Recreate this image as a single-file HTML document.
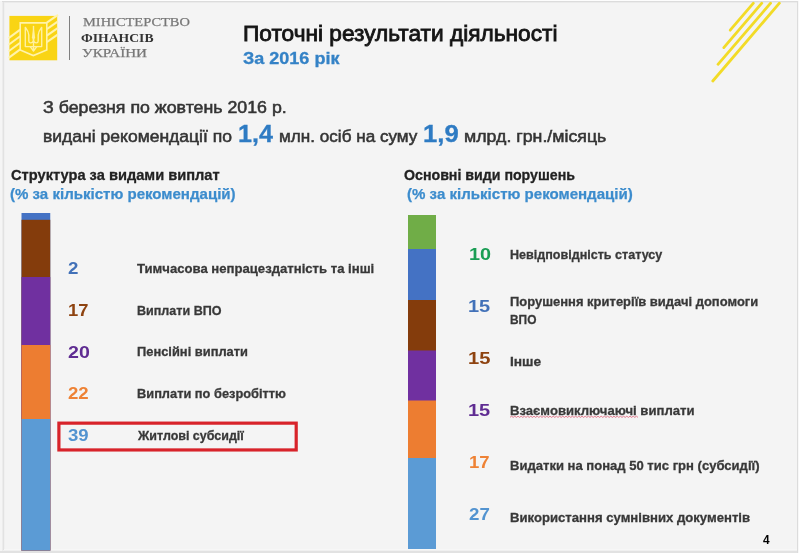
<!DOCTYPE html>
<html lang="uk">
<head>
<meta charset="utf-8">
<title>Поточні результати діяльності</title>
<style>
html,body{margin:0;padding:0;}
body{width:799px;height:553px;overflow:hidden;background:#f5f5f5;font-family:"Liberation Sans",sans-serif;}
#slide{position:absolute;left:0;top:0;width:799px;height:553px;overflow:hidden;background:#f5f5f5;}
#paper{position:absolute;left:4px;top:2px;width:793px;height:549px;background:#f4f4f4;}
.edge{position:absolute;}
.t{position:absolute;white-space:nowrap;line-height:1;transform-origin:0 0;display:block;}
.seg{position:absolute;}
.bar{position:absolute;}
#divider{position:absolute;left:69px;top:16px;width:1px;height:44px;background:#808080;}
svg{position:absolute;left:0;top:0;overflow:visible;}
</style>
</head>
<body>
<div id="slide">
<div id="paper"></div>
<div class="edge" style="left:0;top:0;width:799px;height:1px;background:#fdfdfd;"></div>
<div class="edge" style="left:2px;top:1px;width:797px;height:1px;background:#dcdcdc;"></div>
<div class="edge" style="left:3px;top:2px;width:795px;height:1px;background:#ebebeb;"></div>
<div class="edge" style="left:2px;top:2px;width:1px;height:549px;background:#ececec;"></div>
<div class="edge" style="left:3px;top:2px;width:1px;height:549px;background:#e2e2e2;"></div>
<div class="edge" style="left:4px;top:3px;width:1px;height:548px;background:#f0f0f0;"></div>
<div class="edge" style="left:797px;top:2px;width:1px;height:551px;background:#dcdcdc;"></div>
<div class="edge" style="left:798px;top:1px;width:1px;height:552px;background:#f8f8f8;"></div>
<div class="edge" style="left:4px;top:549px;width:793px;height:1px;background:#f7f7f7;"></div>
<div class="edge" style="left:3px;top:550px;width:794px;height:1px;background:#f0f0f0;"></div>
<div class="edge" style="left:0;top:551px;width:797px;height:2px;background:#e2e2e2;"></div>

<!-- decorative yellow strokes top-right -->
<svg width="799" height="553" viewBox="0 0 799 553">
 <g stroke="#f2db27" stroke-width="2.8" stroke-linecap="round" fill="none">
  <line x1="753.4" y1="3.2" x2="730.2" y2="30.2"/>
  <line x1="761.8" y1="3.2" x2="723.8" y2="47.6"/>
  <line x1="770.6" y1="3.2" x2="718.0" y2="64.3"/>
  <line x1="779.4" y1="3.2" x2="712.8" y2="81.0"/>
 </g>
</svg>

<!-- logo -->
<svg width="799" height="553" viewBox="0 0 799 553">
 <rect x="9.4" y="15.9" width="47.8" height="44.4" fill="#f9d414"/>
 <g stroke="#fff3ab" stroke-width="2" fill="none" stroke-linecap="butt">
  <line x1="20.2" y1="29.6" x2="8.6" y2="38.1"/>
  <line x1="20.2" y1="36.2" x2="8.6" y2="44.7"/>
  <line x1="20.2" y1="42.8" x2="8.6" y2="51.3"/>
  <line x1="20.2" y1="49.4" x2="8.6" y2="57.9"/>
  <line x1="46.8" y1="22.6" x2="58.0" y2="14.9"/>
  <line x1="46.8" y1="29.1" x2="58.0" y2="21.4"/>
  <line x1="46.8" y1="35.6" x2="58.0" y2="27.9"/>
  <line x1="46.8" y1="42.1" x2="58.0" y2="34.4"/>
 </g>
 <path d="M20.2 22.9 H46.8 V50 L33.3 55.6 L20.2 50 Z" stroke="#fff3ab" stroke-width="1.6" fill="#f9d414"/>
 <!-- trident -->
 <g stroke="#fff1a0" stroke-width="1.4" fill="none" stroke-linejoin="round" stroke-linecap="round">
  <path d="M25.3 27.4 V46.6 H41.7 V27.4"/>
  <path d="M25.6 27.6 C27.4 30 28.7 32.2 28.8 35 V41 C29 43.6 32.6 43.6 33.4 40.6"/>
  <path d="M41.4 27.6 C39.6 30 38.3 32.2 38.2 35 V41 C38 43.6 34.4 43.6 33.6 40.6"/>
  <path d="M33.5 26.4 V50.6"/>
  <path d="M30.4 46.8 L33.5 51 L36.6 46.8"/>
 </g>
 <path d="M33.5 26 L35.1 37.5 L33.5 41.5 L31.9 37.5 Z" fill="#fff1a0"/>
</svg>
<div id="divider"></div>

<!-- left stacked bar -->
<svg width="799" height="553" viewBox="0 0 799 553">
 <rect x="21.5" y="213" width="28.75" height="337.5" fill="#4472c4"/>
 <rect x="21.5" y="219.8" width="28.75" height="330.7" fill="#843c0c"/>
 <rect x="21.5" y="277" width="28.75" height="273.5" fill="#7030a0"/>
 <rect x="21.5" y="345" width="28.75" height="205.5" fill="#ed7d31"/>
 <rect x="21.5" y="419" width="28.75" height="131.5" fill="#5b9bd5"/>
</svg>

<!-- right stacked bar -->
<svg width="799" height="553" viewBox="0 0 799 553">
 <rect x="408" y="215" width="28" height="334" fill="#70ad47"/>
 <rect x="408" y="249" width="28" height="300" fill="#4472c4"/>
 <rect x="408" y="300" width="28" height="249" fill="#843c0c"/>
 <rect x="408" y="350.5" width="28" height="198.5" fill="#7030a0"/>
 <rect x="408" y="400.5" width="28" height="148.5" fill="#ed7d31"/>
 <rect x="408" y="458" width="28" height="91" fill="#5b9bd5"/>
</svg>

<!-- highlight frame -->
<svg width="799" height="553" viewBox="0 0 799 553"><rect x="58.9" y="423.15" width="237.3" height="26.8" fill="none" stroke="#d8232a" stroke-width="3.2"/></svg>

<!-- spell-check squiggle -->
<svg width="799" height="553" viewBox="0 0 799 553">
 <path d="M510 417.3 L511.6 416.2 L513.2 417.4 L514.8 416.2 L516.4 417.4 L518.0 416.2 L519.6 417.4 L521.2 416.2 L522.8 417.4 L524.4 416.2 L526.0 417.4 L527.6 416.2 L529.2 417.4 L530.8 416.2 L532.4 417.4 L534.0 416.2 L535.6 417.4 L537.2 416.2 L538.8 417.4 L540.4 416.2 L542.0 417.4 L543.6 416.2 L545.2 417.4 L546.8 416.2 L548.4 417.4 L550.0 416.2 L551.6 417.4 L553.2 416.2 L554.8 417.4 L556.4 416.2 L558.0 417.4 L559.6 416.2 L561.2 417.4 L562.8 416.2 L564.4 417.4 L566.0 416.2 L567.6 417.4 L569.2 416.2 L570.8 417.4 L572.4 416.2 L574.0 417.4 L575.6 416.2 L577.2 417.4 L578.8 416.2 L580.4 417.4 L582.0 416.2 L583.6 417.4 L585.2 416.2 L586.8 417.4 L588.4 416.2 L590.0 417.4 L591.6 416.2 L593.2 417.4 L594.8 416.2 L596.4 417.4 L598.0 416.2 L599.6 417.4 L601.2 416.2 L602.8 417.4 L604.4 416.2 L606.0 417.4 L607.6 416.2 L609.2 417.4 L610.8 416.2 L612.4 417.4 L614.0 416.2 L615.6 417.4 L617.2 416.2 L618.8 417.4 L620.4 416.2 L622.0 417.4 L623.6 416.2 L625.2 417.4 L626.8 416.2 L628.4 417.4 L630.0 416.2 L631.6 417.4 L633.2 416.2 L634.8 417.4 L636.4 416.2 L638.0 417.4" stroke="#e0566f" stroke-width="0.9" stroke-opacity="0.85" fill="none"/>
</svg>

<span class="t" style="left:82.80px;top:15.18px;font-family:'Liberation Serif', serif;font-size:13.4px;font-weight:400;color:#777;transform:scaleX(1.0786);-webkit-text-stroke:0.25px #777;">МІНІСТЕРСТВО</span>
<span class="t" style="left:81.30px;top:30.78px;font-family:'Liberation Serif', serif;font-size:13.4px;font-weight:700;color:#333;transform:scaleX(1.0207);">ФІНАНСІВ</span>
<span class="t" style="left:82.40px;top:46.18px;font-family:'Liberation Serif', serif;font-size:13.4px;font-weight:400;color:#777;transform:scaleX(1.1280);-webkit-text-stroke:0.25px #777;">УКРАЇНИ</span>
<span class="t" style="left:243.00px;top:23.18px;font-family:'Liberation Sans', sans-serif;font-size:22.6px;font-weight:400;color:#151515;transform:scaleX(1.0039);-webkit-text-stroke:0.85px #151515;">Поточні результати діяльності</span>
<span class="t" style="left:242.90px;top:49.96px;font-family:'Liberation Sans', sans-serif;font-size:16.5px;font-weight:700;color:#3482c6;transform:scaleX(1.0916);-webkit-text-stroke:0.3px #3482c6;">За 2016 рік</span>
<span class="t" style="left:43.30px;top:98.81px;font-family:'Liberation Sans', sans-serif;font-size:17px;font-weight:400;color:#343434;transform:scaleX(1.0450);-webkit-text-stroke:0.55px #343434;">З березня по жовтень 2016 р.</span>
<span class="t" style="left:42.90px;top:127.71px;font-family:'Liberation Sans', sans-serif;font-size:17px;font-weight:400;color:#343434;transform:scaleX(1.0310);-webkit-text-stroke:0.55px #343434;">видані рекомендації по</span>
<span class="t" style="left:238.35px;top:122.58px;font-family:'Liberation Sans', sans-serif;font-size:23.3px;font-weight:700;color:#2e7bc3;transform:scaleX(1.0775);-webkit-text-stroke:0.3px #2e7bc3;">1,4</span>
<span class="t" style="left:279.10px;top:127.71px;font-family:'Liberation Sans', sans-serif;font-size:17px;font-weight:400;color:#343434;transform:scaleX(1.0073);-webkit-text-stroke:0.55px #343434;">млн. осіб на суму</span>
<span class="t" style="left:422.95px;top:122.58px;font-family:'Liberation Sans', sans-serif;font-size:23.3px;font-weight:700;color:#2e7bc3;transform:scaleX(1.1022);-webkit-text-stroke:0.3px #2e7bc3;">1,9</span>
<span class="t" style="left:464.00px;top:127.71px;font-family:'Liberation Sans', sans-serif;font-size:17px;font-weight:400;color:#343434;transform:scaleX(1.0440);-webkit-text-stroke:0.55px #343434;">млрд. грн./місяць</span>
<span class="t" style="left:11.40px;top:167.20px;font-family:'Liberation Sans', sans-serif;font-size:15.0px;font-weight:700;color:#222;transform:scaleX(0.9759);-webkit-text-stroke:0.3px #222;">Структура за видами виплат</span>
<span class="t" style="left:10.25px;top:185.65px;font-family:'Liberation Sans', sans-serif;font-size:15.0px;font-weight:700;color:#3c8ccd;transform:scaleX(1.0036);-webkit-text-stroke:0.25px #3c8ccd;">(% за кількістю рекомендацій)</span>
<span class="t" style="left:404.10px;top:167.25px;font-family:'Liberation Sans', sans-serif;font-size:15.0px;font-weight:700;color:#222;transform:scaleX(0.9452);-webkit-text-stroke:0.3px #222;">Основні види порушень</span>
<span class="t" style="left:406.85px;top:185.75px;font-family:'Liberation Sans', sans-serif;font-size:15.0px;font-weight:700;color:#3c8ccd;transform:scaleX(1.0045);-webkit-text-stroke:0.25px #3c8ccd;">(% за кількістю рекомендацій)</span>
<span class="t" style="left:68.10px;top:260.47px;font-family:'Liberation Sans', sans-serif;font-size:17.4px;font-weight:700;color:#4271b8;transform:scaleX(1.0753);">2</span>
<span class="t" style="left:67.60px;top:301.87px;font-family:'Liberation Sans', sans-serif;font-size:17.4px;font-weight:700;color:#8e4310;transform:scaleX(1.0546);">17</span>
<span class="t" style="left:67.85px;top:344.27px;font-family:'Liberation Sans', sans-serif;font-size:17.4px;font-weight:700;color:#5f2c92;transform:scaleX(1.1270);">20</span>
<span class="t" style="left:68.10px;top:384.87px;font-family:'Liberation Sans', sans-serif;font-size:17.4px;font-weight:700;color:#ee8235;transform:scaleX(1.0701);">22</span>
<span class="t" style="left:68.10px;top:426.87px;font-family:'Liberation Sans', sans-serif;font-size:17.4px;font-weight:700;color:#5293d0;transform:scaleX(1.0675);">39</span>
<span class="t" style="left:137.30px;top:261.81px;font-family:'Liberation Sans', sans-serif;font-size:13.4px;font-weight:700;color:#383838;transform:scaleX(0.9797);-webkit-text-stroke:0.3px #383838;">Тимчасова непрацездатність та інші</span>
<span class="t" style="left:137.40px;top:303.86px;font-family:'Liberation Sans', sans-serif;font-size:13.4px;font-weight:700;color:#383838;transform:scaleX(0.9377);-webkit-text-stroke:0.3px #383838;">Виплати ВПО</span>
<span class="t" style="left:137.00px;top:344.86px;font-family:'Liberation Sans', sans-serif;font-size:13.4px;font-weight:700;color:#383838;transform:scaleX(0.9619);-webkit-text-stroke:0.3px #383838;">Пенсійні виплати</span>
<span class="t" style="left:137.00px;top:386.96px;font-family:'Liberation Sans', sans-serif;font-size:13.4px;font-weight:700;color:#383838;transform:scaleX(0.9569);-webkit-text-stroke:0.3px #383838;">Виплати по безробіттю</span>
<span class="t" style="left:137.85px;top:428.56px;font-family:'Liberation Sans', sans-serif;font-size:13.4px;font-weight:700;color:#383838;transform:scaleX(0.9316);-webkit-text-stroke:0.3px #383838;">Житлові субсидії</span>
<span class="t" style="left:468.90px;top:245.87px;font-family:'Liberation Sans', sans-serif;font-size:17.4px;font-weight:700;color:#1a9d54;transform:scaleX(1.1399);">10</span>
<span class="t" style="left:467.75px;top:298.47px;font-family:'Liberation Sans', sans-serif;font-size:17.4px;font-weight:700;color:#4271b8;transform:scaleX(1.1502);">15</span>
<span class="t" style="left:468.35px;top:350.27px;font-family:'Liberation Sans', sans-serif;font-size:17.4px;font-weight:700;color:#8e4310;transform:scaleX(1.1580);">15</span>
<span class="t" style="left:467.75px;top:402.27px;font-family:'Liberation Sans', sans-serif;font-size:17.4px;font-weight:700;color:#5f2c92;transform:scaleX(1.1502);">15</span>
<span class="t" style="left:469.20px;top:454.47px;font-family:'Liberation Sans', sans-serif;font-size:17.4px;font-weight:700;color:#ee8235;transform:scaleX(1.0649);">17</span>
<span class="t" style="left:468.50px;top:506.47px;font-family:'Liberation Sans', sans-serif;font-size:17.4px;font-weight:700;color:#5293d0;transform:scaleX(1.0753);">27</span>
<span class="t" style="left:510.30px;top:248.06px;font-family:'Liberation Sans', sans-serif;font-size:13.4px;font-weight:700;color:#383838;transform:scaleX(0.9377);-webkit-text-stroke:0.3px #383838;">Невідповідність статусу</span>
<span class="t" style="left:510.05px;top:295.16px;font-family:'Liberation Sans', sans-serif;font-size:13.4px;font-weight:700;color:#383838;transform:scaleX(0.9692);-webkit-text-stroke:0.3px #383838;">Порушення критеріїв видачі допомоги</span>
<span class="t" style="left:510.05px;top:312.76px;font-family:'Liberation Sans', sans-serif;font-size:13.4px;font-weight:700;color:#383838;transform:scaleX(0.8883);-webkit-text-stroke:0.3px #383838;">ВПО</span>
<span class="t" style="left:510.05px;top:354.56px;font-family:'Liberation Sans', sans-serif;font-size:13.4px;font-weight:700;color:#383838;transform:scaleX(1.0256);-webkit-text-stroke:0.3px #383838;">Інше</span>
<span class="t" style="left:510.05px;top:404.26px;font-family:'Liberation Sans', sans-serif;font-size:13.4px;font-weight:700;color:#383838;transform:scaleX(0.9799);-webkit-text-stroke:0.3px #383838;">Взаємовиключаючі виплати</span>
<span class="t" style="left:510.05px;top:459.36px;font-family:'Liberation Sans', sans-serif;font-size:13.4px;font-weight:700;color:#383838;transform:scaleX(0.9746);-webkit-text-stroke:0.3px #383838;">Видатки на понад 50 тис грн (субсидії)</span>
<span class="t" style="left:510.05px;top:510.66px;font-family:'Liberation Sans', sans-serif;font-size:13.4px;font-weight:700;color:#383838;transform:scaleX(0.9800);-webkit-text-stroke:0.3px #383838;">Використання сумнівних документів</span>
<span class="t" style="left:763.00px;top:533.33px;font-family:'Liberation Sans', sans-serif;font-size:13.2px;font-weight:700;color:#000;transform:scaleX(0.8987);">4</span>
</div>
</body>
</html>
